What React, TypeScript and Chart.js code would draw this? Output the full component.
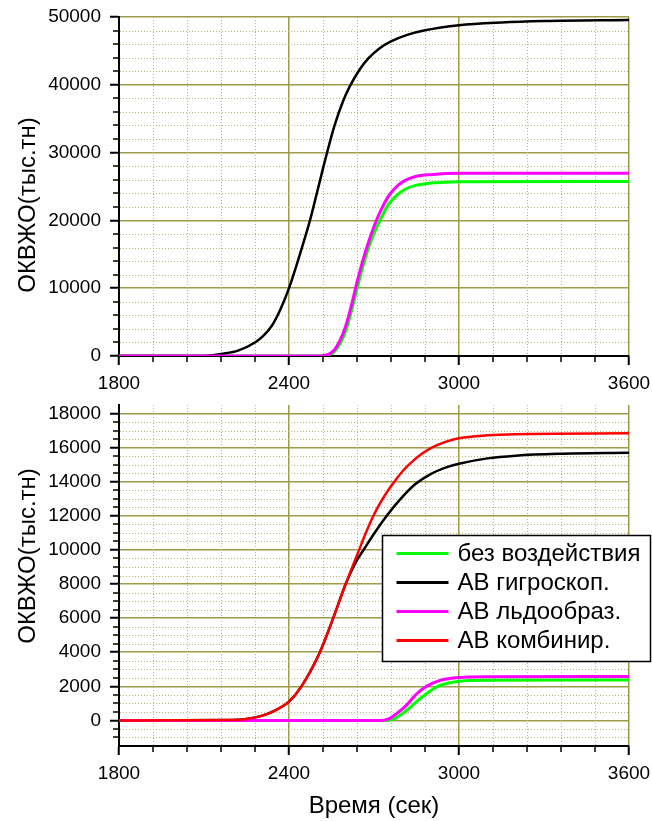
import React, { useEffect, useRef } from "react";
import { Chart, registerables } from "chart.js";

Chart.register(...registerables);

const FONT = '"Liberation Sans", Arial, sans-serif';
const MAJOR_GRID = "#9c9c48";
const MINOR_GRID = "#b8b87c";

// axis ticks
const xTicks = [1800, 2400, 3000, 3600];
const topYTicks = [0, 10000, 20000, 30000, 40000, 50000];
const bottomYTicks = [0, 2000, 4000, 6000, 8000, 10000, 12000, 14000, 16000, 18000];

// legend
const legendLabels = ["без воздействия", "АВ гигроскоп.", "АВ льдообраз.", "АВ комбинир."];
const seriesColors = ["#00ff00", "#000000", "#ff00ff", "#ff0000"];

const yTitle = "ОКВЖО(тыс.тн)";
const xTitle = "Время (сек)";

// ---------- top panel ----------
const topTimeA = [1800, 2100, 2130, 2160, 2220, 2280, 2310, 2340, 2370, 2400, 2440, 2474, 2500, 2530, 2560, 2590, 2615, 2650, 2680, 2720, 2760, 2820, 2880, 3000, 3150, 3300, 3600];
const topGigroskop = [0, 0, 100, 300, 800, 2000, 3000, 4500, 6900, 10000, 15200, 20000, 24300, 29300, 33900, 37500, 39800, 42300, 43900, 45400, 46400, 47400, 48050, 48800, 49200, 49400, 49550];

const topTimeB = [1800, 2500, 2520, 2540, 2560, 2580, 2600, 2620, 2640, 2660, 2680, 2700, 2720, 2750, 2780, 2810, 2850, 2900, 3000, 3600];
const topLdoobraz = [0, 0, 50, 250, 900, 2300, 4400, 7400, 10900, 14000, 16700, 19100, 21100, 23500, 25000, 25900, 26500, 26750, 26950, 26950];
const topBez = [0, 0, 20, 150, 650, 1800, 3700, 6600, 9900, 13100, 15900, 18100, 19900, 22300, 23700, 24600, 25200, 25500, 25700, 25750];

// ---------- bottom panel ----------
const botTimeA = [1800, 2200, 2250, 2300, 2350, 2400, 2444, 2509, 2556, 2600, 2620, 2645, 2670, 2695, 2720, 2750, 2772, 2800, 2840, 2870, 2904, 2950, 3000, 3100, 3200, 3600];
const botKombinir = [0, 20, 80, 250, 580, 1100, 2000, 4000, 6000, 8000, 8850, 9900, 10950, 11900, 12700, 13500, 14000, 14600, 15250, 15650, 16000, 16320, 16550, 16720, 16790, 16840];

const botTimeB = [1800, 2200, 2250, 2300, 2350, 2400, 2444, 2509, 2556, 2600, 2620, 2640, 2665, 2700, 2745, 2790, 2845, 2900, 2960, 3004, 3100, 3200, 3350, 3600];
const botGigroskop = [0, 20, 80, 250, 580, 1100, 2000, 4000, 6000, 8000, 8750, 9400, 10050, 10950, 12000, 12920, 13850, 14450, 14870, 15070, 15370, 15530, 15640, 15700];

const botTimeC = [1800, 2720, 2750, 2780, 2815, 2850, 2886, 2933, 3004, 3100, 3600];
const botLdoobraz = [0, 0, 80, 400, 900, 1550, 2000, 2350, 2520, 2560, 2570];

const botTimeD = [1800, 2740, 2770, 2792, 2820, 2850, 2886, 2933, 3004, 3100, 3600];
const botBez = [0, 0, 80, 300, 650, 1100, 1580, 2050, 2300, 2360, 2370];

type Series = { label: string; color: string; t: number[]; v: number[]; order: number; width: number };

const toPoints = (t: number[], v: number[]) => t.map((x, i) => ({ x, y: v[i] }));

const topSeries: Series[] = [
  { label: legendLabels[0], color: seriesColors[0], t: topTimeB, v: topBez, order: 4, width: 3 },
  { label: legendLabels[1], color: seriesColors[1], t: topTimeA, v: topGigroskop, order: 3, width: 2.5 },
  { label: legendLabels[2], color: seriesColors[2], t: topTimeB, v: topLdoobraz, order: 2, width: 3 },
];

const bottomSeries: Series[] = [
  { label: legendLabels[0], color: seriesColors[0], t: botTimeD, v: botBez, order: 4, width: 3 },
  { label: legendLabels[1], color: seriesColors[1], t: botTimeB, v: botGigroskop, order: 3, width: 2.5 },
  { label: legendLabels[2], color: seriesColors[2], t: botTimeC, v: botLdoobraz, order: 2, width: 3 },
  { label: legendLabels[3], color: seriesColors[3], t: botTimeA, v: botKombinir, order: 1, width: 2.5 },
];

function minorValues(min: number, max: number, step: number, major: number) {
  const out: number[] = [];
  const start = Math.ceil(min / step) * step;
  for (let v = start; v <= max + 1e-9; v += step) {
    if (Math.abs(v - min) < 1e-6 || Math.abs(v - max) < 1e-6) continue;
    const r = Math.abs(v % major);
    if (r < 1e-6 || Math.abs(r - major) < 1e-6) continue;
    out.push(v);
  }
  return out;
}

const panelPlugin = {
  id: "panel",
  beforeDatasetsDraw(chart: any, _args: any, o: any) {
    const { ctx, chartArea: a } = chart;
    const x = chart.scales.x;
    const y = chart.scales.y;
    ctx.save();
    ctx.strokeStyle = MINOR_GRID;
    ctx.lineWidth = 1;
    ctx.setLineDash([1, 2]);
    for (const v of minorValues(x.min, x.max, o.minorX, o.majorX)) {
      const p = Math.round(x.getPixelForValue(v)) + 0.5;
      ctx.beginPath();
      ctx.moveTo(p, a.top);
      ctx.lineTo(p, a.bottom - 1);
      ctx.stroke();
    }
    for (const v of minorValues(y.min, y.max, o.minorY, o.majorY)) {
      const p = Math.round(y.getPixelForValue(v)) + 0.5;
      ctx.beginPath();
      ctx.moveTo(a.left + 1, p);
      ctx.lineTo(a.right, p);
      ctx.stroke();
    }
    ctx.restore();
  },
  afterDraw(chart: any, _args: any, o: any) {
    const { ctx, chartArea: a } = chart;
    const x = chart.scales.x;
    const y = chart.scales.y;
    ctx.save();
    // minor ticks
    ctx.strokeStyle = "#000";
    ctx.lineWidth = 1.5;
    for (const v of minorValues(x.min, x.max, o.minorX, o.majorX)) {
      const p = Math.round(x.getPixelForValue(v));
      ctx.beginPath();
      ctx.moveTo(p, a.bottom);
      ctx.lineTo(p, a.bottom + 6);
      ctx.stroke();
    }
    for (const v of minorValues(y.min, y.max, o.minorY, o.majorY)) {
      const p = Math.round(y.getPixelForValue(v));
      ctx.beginPath();
      ctx.moveTo(a.left - 6, p);
      ctx.lineTo(a.left, p);
      ctx.stroke();
    }
    // y title
    ctx.save();
    ctx.translate(o.titleX, o.titleY);
    ctx.rotate(-Math.PI / 2);
    ctx.font = `24px ${FONT}`;
    ctx.fillStyle = "#000";
    ctx.textAlign = "center";
    ctx.textBaseline = "middle";
    ctx.fillText(o.yTitle, 0, 0);
    ctx.restore();
    // legend
    if (o.legend) {
      const L = o.legend;
      ctx.fillStyle = "#fff";
      ctx.fillRect(L.x, L.y, L.w, L.h);
      ctx.strokeStyle = "#000";
      ctx.lineWidth = 1.5;
      ctx.strokeRect(L.x, L.y, L.w, L.h);
      ctx.font = `24px ${FONT}`;
      ctx.textAlign = "left";
      ctx.textBaseline = "middle";
      chart.data.datasets.forEach((ds: any, i: number) => {
        const cy = L.y + L.firstRow + i * L.rowGap;
        ctx.strokeStyle = ds.borderColor;
        ctx.lineWidth = 3;
        ctx.beginPath();
        ctx.moveTo(L.x + 14, cy);
        ctx.lineTo(L.x + 66, cy);
        ctx.stroke();
        ctx.fillStyle = "#000";
        ctx.fillText(ds.label, L.x + 75, cy + 1);
      });
    }
    ctx.restore();
  },
};

type PanelOpts = {
  series: Series[];
  padTop: number;
  xHeight: number;
  yMin: number;
  yMax: number;
  yTicks: number[];
  minorY: number;
  majorY: number;
  titleY: number;
  showXTitle: boolean;
  legend?: any;
};

function makeConfig(p: PanelOpts): any {
  const tickFont = { family: FONT, size: 19 };
  return {
    type: "line",
    data: {
      datasets: p.series.map((s) => ({
        label: s.label,
        data: toPoints(s.t, s.v),
        borderColor: s.color,
        backgroundColor: s.color,
        borderWidth: s.width,
        pointRadius: 0,
        fill: false,
        cubicInterpolationMode: "monotone",
        order: s.order,
      })),
    },
    options: {
      responsive: false,
      animation: false,
      events: [],
      layout: { padding: { left: 0, right: 23, top: p.padTop, bottom: 0 } },
      plugins: {
        legend: { display: false },
        tooltip: { enabled: false },
        panel: {
          minorX: 120,
          majorX: 600,
          minorY: p.minorY,
          majorY: p.majorY,
          titleX: 28,
          titleY: p.titleY,
          yTitle,
          legend: p.legend,
        },
      },
      scales: {
        x: {
          type: "linear",
          min: 1800,
          max: 3600,
          afterBuildTicks: (ax: any) => {
            ax.ticks = xTicks.map((value) => ({ value }));
          },
          afterFit: (ax: any) => {
            ax.height = p.xHeight;
            ax.paddingLeft = 0;
            ax.paddingRight = 0;
          },
          grid: {
            color: (c: any) => (c.tick && c.tick.value === 1800 ? "rgba(0,0,0,0)" : MAJOR_GRID),
            lineWidth: 1.5,
            tickLength: 9,
            tickWidth: 2,
            tickColor: "#000",
            drawTicks: true,
          },
          border: { display: true, color: "#000", width: 2 },
          ticks: {
            color: "#000",
            font: tickFont,
            padding: 7,
            maxRotation: 0,
            autoSkip: false,
            callback: (v: any) => String(v),
          },
          title: p.showXTitle
            ? {
                display: true,
                text: xTitle,
                color: "#000",
                font: { family: FONT, size: 24 },
                padding: { top: 0, bottom: 0 },
              }
            : { display: false },
        },
        y: {
          type: "linear",
          min: p.yMin,
          max: p.yMax,
          afterBuildTicks: (ax: any) => {
            ax.ticks = p.yTicks.map((value) => ({ value }));
          },
          afterFit: (ax: any) => {
            ax.width = 119;
            ax.paddingTop = 0;
            ax.paddingBottom = 0;
          },
          grid: {
            color: (c: any) => (c.tick && c.tick.value === p.yMin ? "rgba(0,0,0,0)" : MAJOR_GRID),
            lineWidth: 1.5,
            tickLength: 9,
            tickWidth: 2,
            tickColor: "#000",
            drawTicks: true,
          },
          border: { display: true, color: "#000", width: 2 },
          ticks: {
            color: "#000",
            font: tickFont,
            padding: 9,
            autoSkip: false,
            callback: (v: any) => String(v),
          },
          title: { display: false },
        },
      },
    },
    plugins: [panelPlugin],
  };
}

const TOP_CANVAS_H = 400;
const BOT_CANVAS_TOP = 385;
const BOT_CANVAS_H = 821 - BOT_CANVAS_TOP;

export default function App() {
  const topRef = useRef<HTMLCanvasElement>(null);
  const botRef = useRef<HTMLCanvasElement>(null);

  useEffect(() => {
    const c1 = new Chart(
      topRef.current as HTMLCanvasElement,
      makeConfig({
        series: topSeries,
        padTop: 17,
        xHeight: TOP_CANVAS_H - 356,
        yMin: 0,
        yMax: 50000,
        yTicks: topYTicks,
        minorY: 2000,
        majorY: 10000,
        titleY: 205,
        showXTitle: false,
      })
    );
    const c2 = new Chart(
      botRef.current as HTMLCanvasElement,
      makeConfig({
        series: bottomSeries,
        padTop: 405 - BOT_CANVAS_TOP,
        xHeight: BOT_CANVAS_H - (746 - BOT_CANVAS_TOP),
        yMin: -1500,
        yMax: 18500,
        yTicks: bottomYTicks,
        minorY: 500,
        majorY: 2000,
        titleY: 556 - BOT_CANVAS_TOP,
        showXTitle: true,
        legend: { x: 382.5, y: 535.5 - BOT_CANVAS_TOP, w: 268, h: 126, firstRow: 18, rowGap: 29 },
      })
    );
    return () => {
      c1.destroy();
      c2.destroy();
    };
  }, []);

  return (
    <div style={{ position: "absolute", left: 0, top: 0, width: 652, height: 821, background: "#fff" }}>
      <canvas
        ref={topRef}
        width={652}
        height={TOP_CANVAS_H}
        style={{ position: "absolute", left: 0, top: 0, width: 652, height: TOP_CANVAS_H }}
      />
      <canvas
        ref={botRef}
        width={652}
        height={BOT_CANVAS_H}
        style={{ position: "absolute", left: 0, top: BOT_CANVAS_TOP, width: 652, height: BOT_CANVAS_H }}
      />
    </div>
  );
}
